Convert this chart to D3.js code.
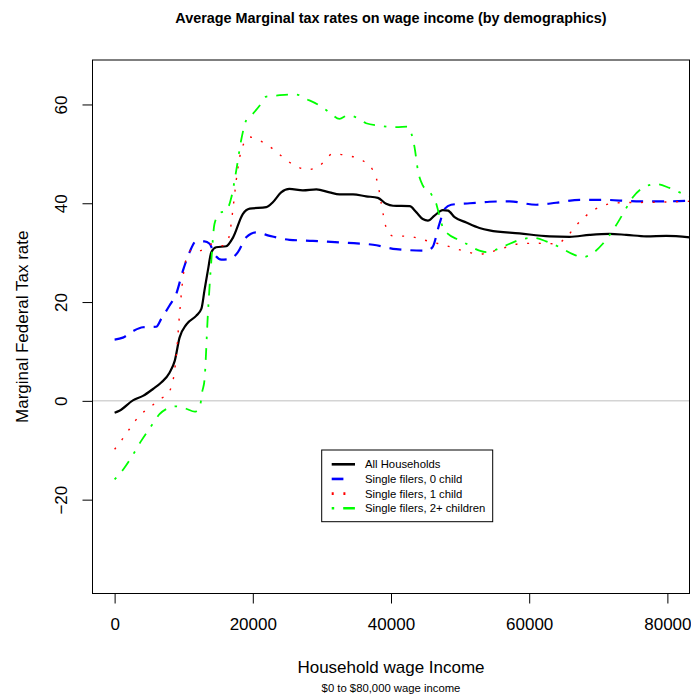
<!DOCTYPE html>
<html>
<head>
<meta charset="utf-8">
<script src="https://cdn.jsdelivr.net/npm/d3@7/dist/d3.min.js"></script>
<style>
  html, body { margin: 0; padding: 0; background: #fff; }
  svg { display: block; font-family: "Liberation Sans", Arial, Helvetica, sans-serif; }
</style>
</head>
<body>
<svg id="chart" width="691" height="696"></svg>
<script>
// Household wage income (x) and average marginal federal tax rate (y), per group
const allIncome = [0, 700, 2650, 4100, 5550, 6750, 7950, 8700, 9400, 10400, 11800, 12550, 13000, 13500, 14000, 14700, 16150, 17150, 18550, 19550, 21950, 22900, 24100, 25300, 27250, 29200, 31100, 32550, 34500, 36400, 38100, 39300, 40300, 42700, 43650, 44600, 45350, 46300, 47500, 48250, 49200, 50900, 52800, 54250, 58600, 62950, 65850, 68750, 71600, 74050, 76950, 79850, 83200];
const allRate = [-2.4, -2.0, 0.1, 1.0, 2.4, 3.7, 5.7, 8.1, 12.8, 15.5, 17.2, 18.6, 22.3, 26.4, 30.1, 31.1, 31.3, 33.1, 37.8, 38.9, 39.2, 40.2, 42.2, 42.9, 42.6, 42.8, 42.2, 41.8, 41.8, 41.4, 41.1, 39.9, 39.5, 39.4, 38.2, 36.8, 36.5, 37.5, 38.6, 38.5, 37.2, 36.1, 35.0, 34.5, 33.9, 33.3, 33.2, 33.6, 33.8, 33.6, 33.3, 33.4, 33.1];

const single0Income = [0, 1200, 2650, 4100, 6030, 6750, 7950, 8900, 9900, 10850, 11800, 13000, 13750, 14450, 15450, 16650, 17850, 19050, 20500, 22450, 25300, 28700, 33500, 37400, 40750, 45100, 46000, 47000, 47800, 48700, 51400, 54250, 57150, 61000, 63900, 67300, 70650, 75500, 80300, 83200];
const single0Rate = [12.4, 12.8, 14.1, 14.9, 15.0, 16.6, 19.3, 21.6, 26.4, 30.1, 32.3, 32.3, 31.8, 29.7, 28.6, 28.7, 30.1, 33.1, 34.1, 33.4, 32.6, 32.4, 32.0, 31.6, 30.7, 30.4, 31.1, 35.8, 38.9, 39.7, 40.0, 40.3, 40.4, 39.7, 40.1, 40.7, 40.7, 40.4, 40.4, 40.5];

const single1Income = [0, 950, 2150, 3600, 5050, 6500, 7700, 8450, 8900, 9400, 9900, 10600, 11350, 12300, 13250, 14250, 15650, 16150, 16650, 17100, 17600, 18100, 18800, 19550, 21000, 22900, 25300, 28000, 29650, 31600, 33500, 35950, 37400, 38100, 38600, 39300, 40250, 42700, 44150, 46050, 48000, 50400, 52800, 56200, 58600, 61000, 63900, 65350, 66800, 68250, 70650, 73050, 77900, 83200];
const single1Rate = [-9.8, -8.1, -5.7, -3.0, -1.4, 0.3, 1.5, 4.1, 8.8, 17.6, 25.0, 29.7, 30.7, 30.4, 31.1, 31.8, 31.4, 31.8, 33.8, 38.5, 44.6, 49.3, 52.4, 53.4, 52.7, 51.0, 48.3, 46.8, 47.6, 50.0, 49.7, 48.6, 46.6, 43.9, 39.9, 35.1, 33.4, 33.3, 32.8, 32.1, 31.4, 30.4, 29.7, 30.9, 31.8, 31.9, 31.8, 33.1, 35.5, 37.5, 39.5, 40.1, 40.2, 40.4];

const single2Income = [0, 1450, 2400, 3850, 5300, 6500, 7700, 8900, 10350, 11600, 12300, 12700, 13000, 13500, 14000, 14450, 15200, 16150, 16900, 17600, 18350, 19050, 20000, 21000, 21950, 23400, 25100, 26300, 27750, 29650, 31100, 32550, 33750, 34950, 36400, 38350, 40750, 42450, 42950, 43400, 43900, 44600, 45800, 46550, 47050, 47500, 48250, 49450, 50900, 52800, 53800, 56200, 58600, 60550, 62450, 64400, 66300, 67750, 69200, 70650, 72100, 73550, 75000, 76450, 78400, 80300, 82250, 83200];
const single2Rate = [-15.9, -13.5, -11.5, -8.1, -5.1, -2.7, -1.5, -1.1, -1.6, -2.2, -1.4, 2.0, 4.1, 17.6, 28.4, 35.8, 38.0, 38.5, 41.2, 46.6, 53.0, 56.8, 58.1, 59.8, 61.6, 61.8, 62.0, 62.0, 61.1, 59.8, 58.4, 57.1, 57.8, 57.4, 56.2, 55.7, 55.4, 55.5, 54.1, 51.4, 46.6, 43.6, 41.9, 39.9, 37.2, 35.1, 33.8, 32.8, 31.8, 30.4, 30.1, 31.2, 32.6, 33.0, 32.3, 31.1, 29.7, 29.1, 29.9, 31.8, 34.5, 37.8, 41.2, 43.1, 43.9, 43.1, 41.9, 41.4];

const seriesNames = ["All Households", "Single filers, 0 child", "Single filers, 1 child", "Single filers, 2+ children"];
const seriesColors = ["#000000", "#0000ff", "#ff0000", "#00ff00"];
const xTicks = [0, 20000, 40000, 60000, 80000];
const yTicks = [-20, 0, 20, 40, 60];

const titleText = "Average Marginal tax rates on wage income (by demographics)";
const xTitle = "Household wage Income";
const xSubtitle = "$0 to $80,000 wage income";
const yTitle = "Marginal Federal Tax rate";

const svg = d3.select("#chart");
const plot = { left: 92.5, right: 689.5, top: 60, bottom: 593.5 };

const x = d3.scaleLinear().domain([-3200, 83200]).range([plot.left, plot.right]);
const y = d3.scaleLinear().domain([-39, 69]).range([plot.bottom, plot.top]);

svg.append("defs").append("clipPath").attr("id", "plotClip")
  .append("rect")
  .attr("x", plot.left).attr("y", plot.top)
  .attr("width", plot.right - plot.left).attr("height", plot.bottom - plot.top);

// zero reference line
svg.append("line")
  .attr("x1", plot.left).attr("x2", plot.right)
  .attr("y1", y(0)).attr("y2", y(0))
  .attr("stroke", "#bebebe").attr("stroke-width", 1);

const series = [
  { income: allIncome, rate: allRate, width: 2.2, dash: null },
  { income: single0Income, rate: single0Rate, width: 2.2, dash: "12,9" },
  { income: single1Income, rate: single1Rate, width: 1.4, dash: "2,9.7" },
  { income: single2Income, rate: single2Rate, width: 1.8, dash: "2.5,9,11.7,9" }
];

const line = d3.line()
  .x(d => x(d[0]))
  .y(d => y(d[1]))
  .curve(d3.curveMonotoneX);

const lines = svg.append("g").attr("clip-path", "url(#plotClip)");
series.forEach((s, i) => {
  const pts = s.income.map((v, j) => [v, s.rate[j]]);
  lines.append("path")
    .attr("d", line(pts))
    .attr("fill", "none")
    .attr("stroke", seriesColors[i])
    .attr("stroke-width", s.width)
    .attr("stroke-dasharray", s.dash)
    .attr("stroke-linejoin", "round");
});

// frame
svg.append("rect")
  .attr("x", plot.left).attr("y", plot.top)
  .attr("width", plot.right - plot.left).attr("height", plot.bottom - plot.top)
  .attr("fill", "none").attr("stroke", "#000").attr("stroke-width", 1);

// x axis
const xAxis = svg.append("g")
  .attr("transform", `translate(0,${plot.bottom})`)
  .call(d3.axisBottom(x).tickValues(xTicks).tickFormat(d3.format("d")).tickSize(10).tickPadding(14));
xAxis.select(".domain").remove();
xAxis.attr("font-family", null);
xAxis.selectAll("text").attr("font-size", 17).attr("fill", "#000");
xAxis.selectAll("line").attr("stroke", "#000");

// y axis
const yAxis = svg.append("g")
  .attr("transform", `translate(${plot.left},0)`)
  .call(d3.axisLeft(y).tickValues(yTicks).tickFormat(d3.format("d")).tickSize(10));
yAxis.select(".domain").remove();
yAxis.attr("font-family", null);
yAxis.selectAll("line").attr("stroke", "#000");
yAxis.selectAll("text")
  .attr("font-size", 17).attr("fill", "#000")
  .attr("x", null).attr("dy", "0.35em")
  .attr("text-anchor", "middle")
  .attr("transform", "translate(-31,0) rotate(-90)");

// titles
svg.append("text")
  .attr("x", (plot.left + plot.right) / 2).attr("y", 23)
  .attr("text-anchor", "middle")
  .attr("font-size", 14.4).attr("font-weight", "bold")
  .text(titleText);

svg.append("text")
  .attr("x", (plot.left + plot.right) / 2).attr("y", 673)
  .attr("text-anchor", "middle")
  .attr("font-size", 17)
  .text(xTitle);

svg.append("text")
  .attr("x", (plot.left + plot.right) / 2).attr("y", 692)
  .attr("text-anchor", "middle")
  .attr("font-size", 11.3)
  .text(xSubtitle);

svg.append("text")
  .attr("transform", `translate(28,${(plot.top + plot.bottom) / 2}) rotate(-90)`)
  .attr("text-anchor", "middle")
  .attr("font-size", 17)
  .text(yTitle);

// legend
const legend = svg.append("g");
legend.append("rect")
  .attr("x", 321.7).attr("y", 450)
  .attr("width", 171).attr("height", 71.7)
  .attr("fill", "#fff").attr("stroke", "#000").attr("stroke-width", 1);

seriesNames.forEach((name, i) => {
  const ry = 464.3 + i * 14.65;
  legend.append("line")
    .attr("x1", 331.7).attr("x2", 355)
    .attr("y1", ry).attr("y2", ry)
    .attr("stroke", seriesColors[i])
    .attr("stroke-width", 2.6)
    .attr("stroke-dasharray", i === 1 ? "11.7,11.7" : series[i].dash);
  legend.append("text")
    .attr("x", 365).attr("y", ry)
    .attr("dy", "0.35em")
    .attr("font-size", 11.3)
    .text(name);
});
</script>
</body>
</html>
